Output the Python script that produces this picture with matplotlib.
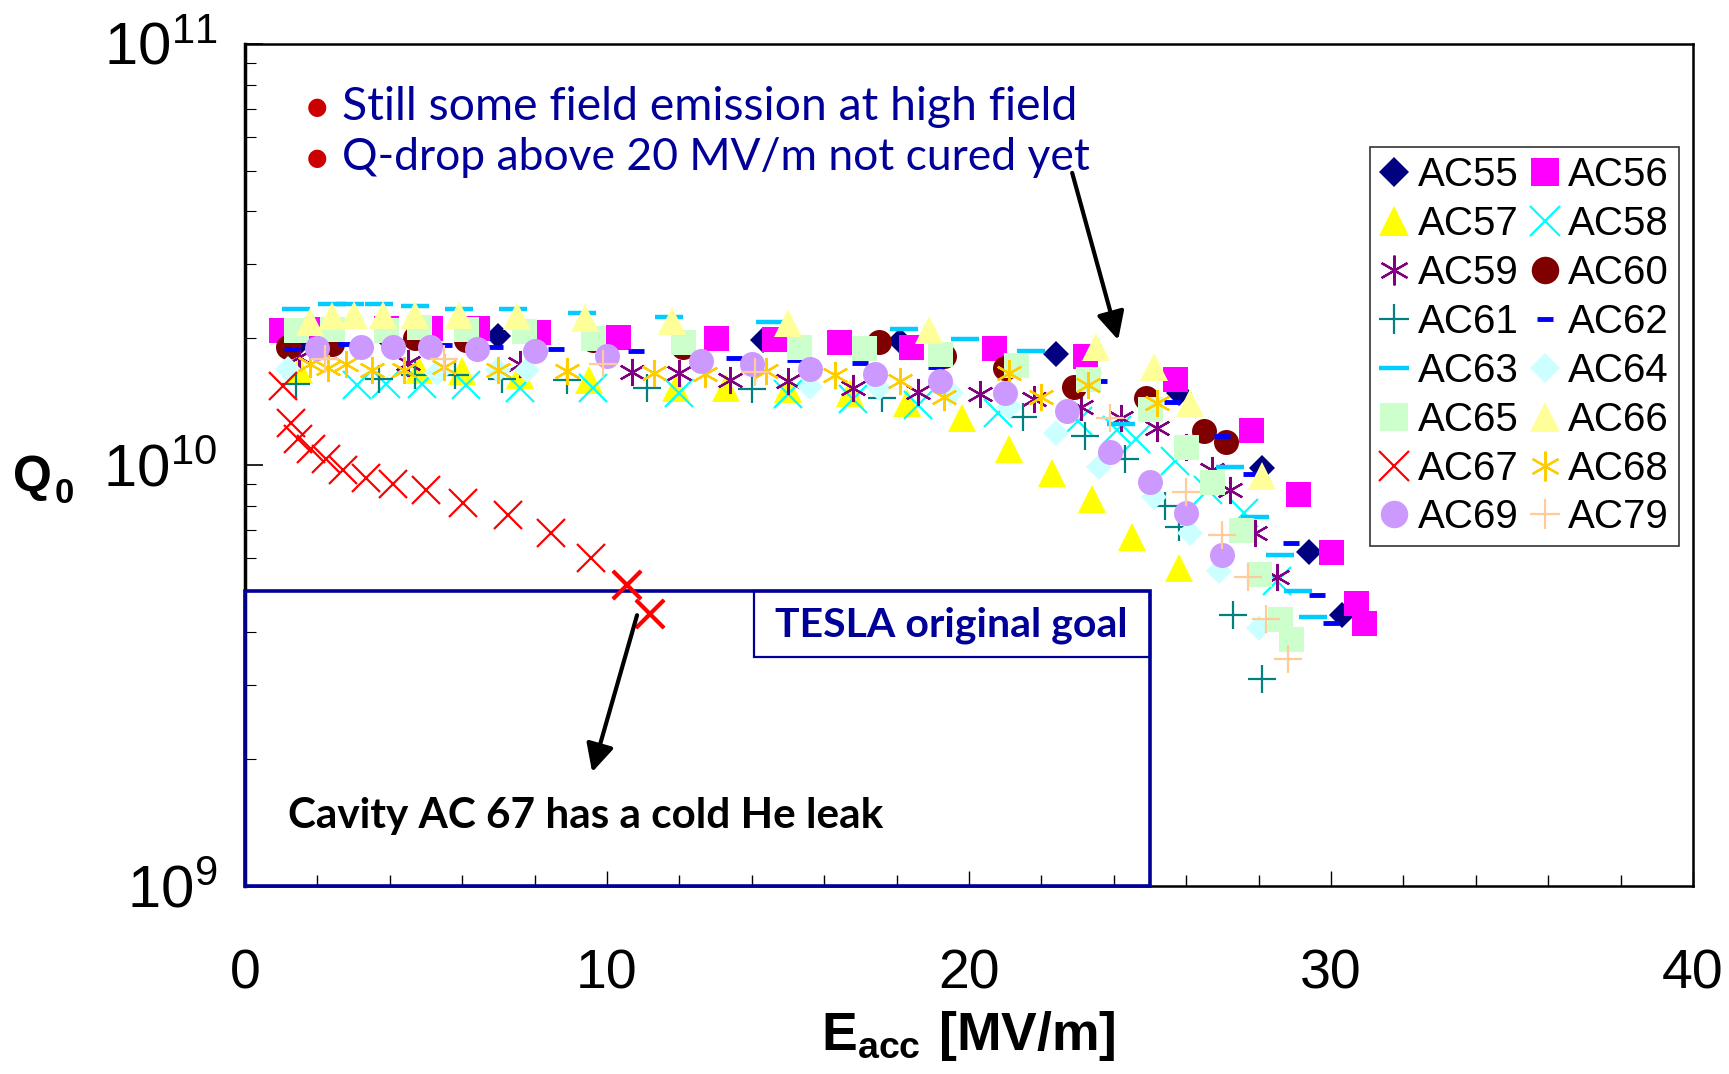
import math
import matplotlib
matplotlib.use("Agg")
import matplotlib.pyplot as plt
from matplotlib import font_manager
from matplotlib.ticker import MultipleLocator, LogLocator, FuncFormatter, NullFormatter
from matplotlib.patches import Rectangle

# ---- data: Eacc [MV/m] and Q0 per cavity ----
E_55 = [1.5, 4.0, 7.0, 14.3, 18.1, 22.4, 25.8, 28.1, 29.4, 30.3]
Q_55 = [1.95e10, 1.97e10, 2.02e10, 1.98e10, 1.97e10, 1.83e10, 1.48e10, 9.8e9, 6.2e9, 4.4e9]
E_56 = [1.0, 2.0, 3.9, 5.1, 6.4, 8.1, 10.3, 13.0, 14.6, 16.4, 18.4, 20.7, 23.2, 25.7, 27.8, 29.1, 30.0, 30.7, 30.9]
Q_56 = [2.09e10, 2.1e10, 2.11e10, 2.11e10, 2.11e10, 2.07e10, 2.01e10, 2.0e10, 1.99e10, 1.96e10,
        1.91e10, 1.89e10, 1.81e10, 1.6e10, 1.21e10, 8.5e9, 6.2e9, 4.7e9, 4.2e9]
E_57 = [1.5, 4.8, 6.0, 7.6, 9.5, 11.9, 13.3, 15.0, 16.7, 18.3, 19.8, 21.1, 22.3, 23.4, 24.5, 25.8]
Q_57 = [1.68e10, 1.68e10, 1.67e10, 1.63e10, 1.59e10, 1.52e10, 1.52e10, 1.51e10, 1.48e10, 1.40e10,
        1.29e10, 1.09e10, 9.55e9, 8.3e9, 6.75e9, 5.68e9]
E_58 = [3.1, 3.9, 4.9, 6.1, 7.6, 9.6, 12.0, 15.0, 16.8, 18.6, 20.8, 23.0, 24.1, 24.6, 25.7, 26.6, 27.6, 28.5]
Q_58 = [1.55e10, 1.56e10, 1.56e10, 1.55e10, 1.52e10, 1.52e10, 1.48e10, 1.47e10, 1.43e10, 1.39e10,
        1.33e10, 1.27e10, 1.21e10, 1.15e10, 1.02e10, 8.7e9, 7.7e9, 5.3e9]
E_59 = [1.5, 4.5, 7.6, 10.7, 12.0, 13.4, 15.0, 16.8, 18.6, 20.3, 21.8, 23.1, 24.2, 25.2, 26.0, 26.7, 27.2, 27.9, 28.5]
Q_59 = [1.8e10, 1.75e10, 1.74e10, 1.66e10, 1.65e10, 1.59e10, 1.58e10, 1.52e10, 1.49e10, 1.47e10,
        1.43e10, 1.37e10, 1.29e10, 1.22e10, 1.1e10, 9.7e9, 8.7e9, 6.9e9, 5.4e9]
E_60 = [1.2, 2.4, 4.7, 6.1, 9.6, 12.1, 17.5, 19.3, 21.0, 22.9, 24.9, 26.5, 27.1]
Q_60 = [1.91e10, 1.94e10, 2.0e10, 1.98e10, 1.98e10, 1.91e10, 1.96e10, 1.81e10, 1.70e10, 1.53e10,
        1.44e10, 1.2e10, 1.13e10]
E_61 = [1.4, 3.7, 4.7, 5.8, 7.1, 8.9, 11.1, 14.0, 17.6, 21.5, 23.2, 24.3, 25.4, 25.8, 27.3, 28.1]
Q_61 = [1.56e10, 1.6e10, 1.63e10, 1.63e10, 1.6e10, 1.59e10, 1.52e10, 1.51e10, 1.44e10, 1.30e10,
        1.17e10, 1.03e10, 8.0e9, 7.1e9, 4.4e9, 3.1e9]
E_62 = [1.3, 2.8, 5.5, 6.9, 8.6, 10.8, 13.5, 15.2, 17.0, 19.1, 23.6, 25.6, 27.0, 27.8, 28.9, 29.6, 30.0]
Q_62 = [1.88e10, 1.94e10, 1.93e10, 1.90e10, 1.88e10, 1.86e10, 1.79e10, 1.77e10, 1.75e10, 1.71e10,
        1.58e10, 1.41e10, 1.17e10, 9.5e9, 6.5e9, 4.9e9, 4.2e9]
E_63 = [1.4, 2.4, 2.9, 3.7, 4.7, 5.9, 7.4, 9.3, 11.7, 14.5, 18.2, 19.9, 21.7, 24.2, 27.2, 27.9, 28.6, 29.1, 29.5]
Q_63 = [2.34e10, 2.41e10, 2.41e10, 2.41e10, 2.38e10, 2.34e10, 2.34e10, 2.30e10, 2.25e10, 2.19e10,
        2.10e10, 1.99e10, 1.86e10, 1.25e10, 9.9e9, 7.5e9, 6.1e9, 5.0e9, 4.35e9]
E_64 = [1.2, 5.3, 7.0, 7.8, 15.6, 17.5, 19.5, 21.1, 22.4, 23.6, 25.1, 26.1, 26.9, 28.0]
Q_64 = [1.69e10, 1.65e10, 1.68e10, 1.68e10, 1.53e10, 1.52e10, 1.48e10, 1.37e10, 1.19e10, 9.9e9,
        8.4e9, 6.9e9, 5.6e9, 4.1e9]
E_65 = [1.4, 2.4, 3.9, 4.8, 6.1, 7.7, 9.6, 12.1, 15.3, 17.1, 19.2, 21.3, 23.3, 25.0, 26.0, 26.7, 27.5, 28.0, 28.6, 28.9]
Q_65 = [2.09e10, 2.1e10, 2.09e10, 2.12e10, 2.1e10, 2.08e10, 2.0e10, 1.96e10, 1.91e10, 1.89e10,
        1.83e10, 1.73e10, 1.6e10, 1.36e10, 1.1e10, 9.1e9, 7.0e9, 5.5e9, 4.3e9, 3.85e9]
E_66 = [1.8, 2.4, 3.0, 3.8, 4.7, 5.9, 7.5, 9.4, 11.8, 15.0, 18.9, 23.5, 25.1, 26.1, 28.1]
Q_66 = [2.19e10, 2.26e10, 2.27e10, 2.27e10, 2.27e10, 2.27e10, 2.26e10, 2.23e10, 2.2e10, 2.17e10,
        2.09e10, 1.91e10, 1.71e10, 1.4e10, 9.4e9]
E_67 = [1.06, 1.27, 1.47, 1.82, 2.24, 2.72, 3.34, 4.10, 5.0, 6.03, 7.27, 8.45, 9.56, 10.56, 11.2]
Q_67 = [1.54e10, 1.26e10, 1.15e10, 1.09e10, 1.03e10, 9.7e9, 9.3e9, 9.0e9, 8.7e9, 8.1e9,
        7.6e9, 6.9e9, 6.0e9, 5.17e9, 4.42e9]
E_68 = [1.8, 2.3, 2.8, 3.5, 4.4, 5.5, 7.0, 8.9, 11.3, 12.7, 14.4, 16.3, 18.1, 19.3, 21.1, 22.0, 23.3, 25.2]
Q_68 = [1.74e10, 1.7e10, 1.74e10, 1.68e10, 1.68e10, 1.71e10, 1.68e10, 1.67e10, 1.65e10, 1.64e10,
        1.67e10, 1.63e10, 1.58e10, 1.45e10, 1.65e10, 1.45e10, 1.55e10, 1.40e10]
E_69 = [2.0, 3.2, 4.1, 5.1, 6.4, 8.0, 10.0, 12.6, 14.0, 15.6, 17.4, 19.2, 21.0, 22.7, 23.9, 25.0, 26.0, 27.0]
Q_69 = [1.89e10, 1.91e10, 1.91e10, 1.91e10, 1.88e10, 1.86e10, 1.81e10, 1.76e10, 1.74e10, 1.69e10,
        1.64e10, 1.58e10, 1.48e10, 1.34e10, 1.07e10, 9.1e9, 7.7e9, 6.1e9]
E_79 = [2.2, 5.5, 9.9, 14.1, 23.9, 26.0, 27.0, 27.7, 28.2, 28.8]
Q_79 = [1.78e10, 1.78e10, 1.74e10, 1.66e10, 1.29e10, 8.6e9, 6.8e9, 5.4e9, 4.3e9, 3.45e9]

x_ticks = [0, 10, 20, 30, 40]
goal_E = 25      # TESLA original goal: Eacc 25 MV/m
goal_Q = 5e9     # ... at Q0 = 5e9


def have_font(name):
    try:
        font_manager.findfont(name, fallback_to_default=False)
        return True
    except ValueError:
        return False


NARROW = "Liberation Sans Narrow" if have_font("Liberation Sans Narrow") else "Liberation Sans"
COMIC = "Lato"

plt.rcParams["font.family"] = "Liberation Sans"
plt.rcParams["mathtext.fontset"] = "custom"
plt.rcParams["mathtext.rm"] = "Liberation Sans"
plt.rcParams["mathtext.bf"] = NARROW + ":bold"

AST = (6, 2, 0)
series = [
    ("AC55", E_55, Q_55, dict(marker="D", ms=13.5, mfc="#000080", mec="#000080", mew=0)),
    ("AC56", E_56, Q_56, dict(marker="s", ms=18, mfc="#FF00FF", mec="#FF00FF", mew=0)),
    ("AC57", E_57, Q_57, dict(marker="^", ms=19.5, mfc="#FFFF00", mec="#FFFF00", mew=0)),
    ("AC58", E_58, Q_58, dict(marker="x", ms=19.5, mec="#00FFFF", mew=1.6)),
    ("AC59", E_59, Q_59, dict(marker=AST, ms=19.5, mec="#800080", mew=1.6)),
    ("AC60", E_60, Q_60, dict(marker="o", ms=18, mfc="#800000", mec="#800000", mew=0)),
    ("AC61", E_61, Q_61, dict(marker="+", ms=19.5, mec="#008080", mew=1.6)),
    ("AC62", E_62, Q_62, dict(marker="_", ms=11, mec="#0000FF", mew=3.5)),
    ("AC63", E_63, Q_63, dict(marker="_", ms=19.5, mec="#00CCFF", mew=3.2)),
    ("AC64", E_64, Q_64, dict(marker="D", ms=13.5, mfc="#CCFFFF", mec="#CCFFFF", mew=0)),
    ("AC65", E_65, Q_65, dict(marker="s", ms=18, mfc="#CCFFCC", mec="#CCFFCC", mew=0)),
    ("AC66", E_66, Q_66, dict(marker="^", ms=19.5, mfc="#FFFF99", mec="#FFFF99", mew=0)),
    ("AC67", E_67, Q_67, dict(marker="x", ms=19.5, mec="#FF0000", mew=1.6)),
    ("AC68", E_68, Q_68, dict(marker=AST, ms=19.5, mec="#FFCC00", mew=1.6)),
    ("AC69", E_69, Q_69, dict(marker="o", ms=18, mfc="#CC99FF", mec="#CC99FF", mew=0)),
    ("AC79", E_79, Q_79, dict(marker="+", ms=19.5, mec="#FFCC99", mew=1.6)),
]

fig = plt.figure(figsize=(17.29, 10.74), dpi=100)
ax = fig.add_axes([0.1417, 0.1755, 0.8375, 0.7835])

handles = {}
for name, E, Q, st in series:
    h, = ax.plot(E, Q, linestyle="none", label=name, zorder=4, **st)
    handles[name] = h
# last two AC67 points are drawn bolder in the original
ax.plot(E_67[-2:], Q_67[-2:], linestyle="none", marker="x", ms=19.5, mec="#FF0000", mew=3, zorder=4)

ax.set_yscale("log")
ax.set_xlim(0, 40)
ax.set_ylim(1e9, 1e11)
ax.xaxis.set_minor_locator(MultipleLocator(2))
ax.set_xticks(x_ticks)
ax.set_xticklabels([str(v) for v in x_ticks], family=NARROW, fontsize=40)
ax.yaxis.set_major_locator(LogLocator(base=10, numticks=5))
ax.yaxis.set_minor_locator(LogLocator(base=10, subs=range(2, 10), numticks=20))
ax.yaxis.set_major_formatter(FuncFormatter(lambda v, p: r"$\mathregular{10^{%d}}$" % round(math.log10(v))))
ax.yaxis.set_minor_formatter(NullFormatter())
ax.tick_params(axis="x", which="major", direction="in", length=11, width=1, pad=45, top=False)
ax.tick_params(axis="x", which="minor", direction="in", length=8, width=1, top=False)
ax.tick_params(axis="y", which="major", direction="in", length=13, width=1.2, pad=20, labelsize=43, right=False)
ax.tick_params(axis="y", which="minor", direction="in", length=8, width=0.8, right=False)
for s in ax.spines.values():
    s.set_linewidth(1.8)
ax.spines["left"].set_linewidth(2.5)

# TESLA goal box
ax.add_patch(Rectangle((0, 1e9), goal_E, goal_Q - 1e9, fill=False, ec="#000099", lw=2.6,
                       zorder=3, clip_on=False))
ax.add_patch(Rectangle((14.06, 3.49e9), goal_E - 14.06, goal_Q - 3.49e9, fill=False, ec="#000099",
                       lw=1.6, zorder=3, clip_on=False))

renderer = fig.canvas.get_renderer()


def fit(t, width_px):
    w = t.get_window_extent(renderer).width
    t.set_fontsize(t.get_fontsize() * width_px / w)


t = ax.text(19.5, 4.16e9, "TESLA original goal", ha="center", va="center", color="#000099",
            family=COMIC, fontweight="bold", fontsize=26, zorder=5)
fit(t, 352)
t = ax.text(1.2, 1.46e9, "Cavity AC 67 has a cold He leak", ha="left", va="center", color="black",
            family=COMIC, fontweight="bold", fontsize=26, zorder=5)
fit(t, 595)
t = ax.text(2.68, 7.09e10, "Still some field emission at high field", ha="left", va="center",
            color="#000099", family=COMIC, fontsize=30, zorder=5)
fit(t, 736)
t = ax.text(2.68, 5.37e10, "Q-drop above 20 MV/m not cured yet", ha="left", va="center",
            color="#000099", family=COMIC, fontsize=30, zorder=5)
fit(t, 747)
for yb in (7.09e10, 5.37e10):
    ax.text(2.0, yb, "\u25CF", ha="center", va="center", color="#CC0000", fontsize=17,
            family="DejaVu Sans", zorder=5)

# arrows
arrow = dict(arrowstyle="-|>", lw=3, color="black", mutation_scale=42, shrinkA=0, shrinkB=0)
ax.annotate("", xy=(24.12, 1.98e10), xytext=(22.85, 4.94e10), arrowprops=arrow, zorder=5)
ax.annotate("", xy=(9.59, 1.86e9), xytext=(10.83, 4.39e9), arrowprops=arrow, zorder=5)

# legend, filled row-wise like the original
names = [s[0] for s in series]
order = names[0::2] + names[1::2]
leg = ax.legend([handles[n] for n in order], order, ncol=2, loc="upper right",
                bbox_to_anchor=(0.99, 0.878), borderaxespad=0, fontsize=29, frameon=True,
                fancybox=False, edgecolor="#333333", framealpha=1, handlelength=0.75,
                handletextpad=0.2, columnspacing=0.28, labelspacing=0.27, borderpad=0.24,
                markerscale=1.1)
leg.get_frame().set_linewidth(1.2)
leg.set_zorder(6)

# axis titles
fig.text(13 / 1729, 1 - 491 / 1074, "Q", fontsize=36, fontweight="bold", ha="left", va="baseline")
fig.text(55 / 1729, 1 - 503 / 1074, "0", fontsize=25, fontweight="bold", ha="left", va="baseline")
t = fig.text(968 / 1729, 1 - 1036 / 1074, r"$\mathbf{E_{acc}}\ \mathbf{[MV/m]}$", ha="center",
             va="center", fontsize=42)
fit(t, 295)

fig.savefig("out.png", dpi=100)
